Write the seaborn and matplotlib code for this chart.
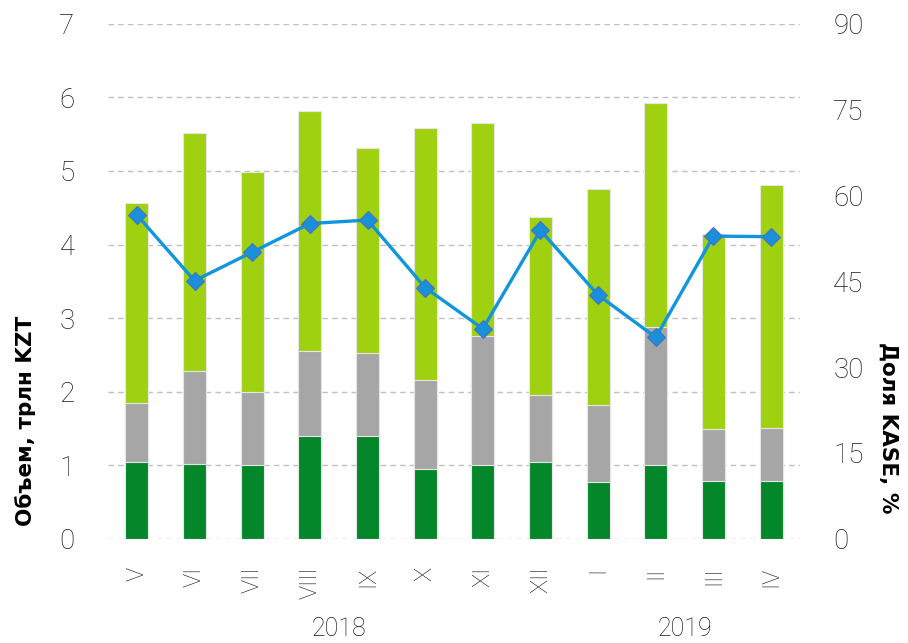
import matplotlib
matplotlib.use("Agg")
import matplotlib.pyplot as plt
import seaborn as sns
import numpy as np
import pandas as pd

months = ["V", "VI", "VII", "VIII", "IX", "X", "XI", "XII", "I", "II", "III", "IV"]
dark_vals = [1.04, 1.02, 1.00, 1.40, 1.40, 0.95, 1.01, 1.05, 0.77, 1.00, 0.78, 0.79]
gray_vals = [0.80, 1.26, 0.99, 1.15, 1.13, 1.21, 1.75, 0.90, 1.05, 1.88, 0.71, 0.71]
light_vals = [2.72, 3.24, 3.00, 3.26, 2.78, 3.43, 2.89, 2.43, 2.94, 3.04, 2.65, 3.31]
kase_share = [56.6, 45.1, 50.1, 55.1, 55.7, 43.9, 36.7, 53.9, 42.6, 35.2, 52.9, 52.8]
years = ["2018", "2019"]
year_centers = [3.5, 9.5]

sns.set_theme(style="white")
plt.rcParams["font.family"] = ["DejaVu Sans"]

c_dark = "#04872A"
c_gray = "#A6A6A6"
c_light = "#9FD110"
c_line = "#1096DC"
txt = "#1A1A1A"

df = pd.DataFrame({
    "month": months,
    "dark": dark_vals,
    "gray": gray_vals,
    "light": light_vals,
})
df["lvl2"] = df["dark"] + df["gray"]
df["lvl3"] = df["lvl2"] + df["light"]

fig = plt.figure(figsize=(9.08, 6.43), dpi=100)
ax = fig.add_axes([0.119, 0.162, 0.762, 0.801])

for col, color in [("lvl3", c_light), ("lvl2", c_gray), ("dark", c_dark)]:
    sns.barplot(data=df, x="month", y=col, color=color, width=0.4, ax=ax,
                saturation=1, edgecolor="#E6E6E6", linewidth=0.8, zorder=3)

ax.set_ylim(0, 7)
ax.set_xlim(-0.5, 11.5)
ax.set_yticks(range(0, 8))
ax.yaxis.grid(True, linestyle=(0, (4, 3)), color="#C0C0C0", linewidth=1.0, zorder=0)
ax.set_axisbelow(True)
for s in ax.spines.values():
    s.set_visible(False)
ax.tick_params(axis="both", length=0)
ax.tick_params(axis="y", pad=24)
ax.tick_params(axis="x", pad=20)

for lab in ax.get_yticklabels():
    lab.set_fontsize(20)
    lab.set_fontfamily("Roboto")
    lab.set_fontweight("light")
    lab.set_color(txt)
ax.set_xticks(range(len(months)))
ax.set_xticklabels(months, rotation=90, fontsize=17, family="Roboto",
                   weight="light", color=txt, va="top")
ax.set_xlabel("")
ax.set_ylabel("")

ax2 = ax.twinx()
sns.lineplot(x=np.arange(len(months)), y=kase_share, ax=ax2, color=c_line,
             linewidth=2.4, marker="D", markersize=9, markerfacecolor="#1A8FDA",
             markeredgecolor="#4A6FC0", markeredgewidth=0.8, zorder=5)
ax2.set_ylim(0, 90)
ax2.set_yticks(range(0, 91, 15))
ax2.set_xlim(-0.5, 11.5)
for s in ax2.spines.values():
    s.set_visible(False)
ax2.grid(False)
ax2.tick_params(axis="y", length=0, pad=24)
for lab in ax2.get_yticklabels():
    lab.set_fontsize(20)
    lab.set_fontfamily("Roboto")
    lab.set_fontweight("light")
    lab.set_color(txt)
ax2.set_ylabel("")

fig.text(26 / 908, 1 - 421 / 643, "Объем, трлн KZT", rotation=90, ha="center",
         va="center", fontsize=15.5, fontweight="bold", color="#000000")
fig.text(888 / 908, 1 - 428 / 643, "Доля KASE, %", rotation=270, ha="center",
         va="center", fontsize=15.5, fontweight="bold", color="#000000")

for yr, xc in zip(years, year_centers):
    ax.text(xc, -0.1755, yr, transform=ax.get_xaxis_transform(), ha="center",
            va="center", fontsize=18, family="Roboto", weight="light", color=txt)

fig.savefig("out.png", dpi=100)
